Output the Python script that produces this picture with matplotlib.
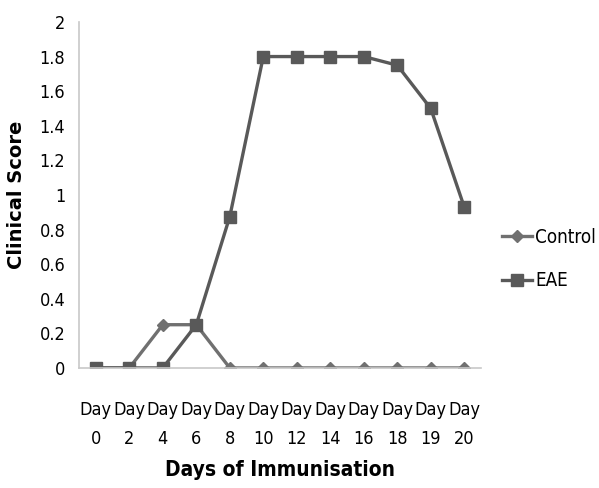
import matplotlib.pyplot as plt

days = ['0', '2', '4', '6', '8', '10', '12', '14', '16', '18', '19', '20']
control = [0, 0, 0.25, 0.25, 0, 0, 0, 0, 0, 0, 0, 0]
eae = [0, 0, 0, 0.25, 0.875, 1.8, 1.8, 1.8, 1.8, 1.75, 1.5, 0.93]

plt.rcParams['font.family'] = ['DejaVu Sans']
plt.rcParams['font.stretch'] = 'condensed'

fig = plt.figure(figsize=(5.99, 4.88), dpi=100)
ax = fig.add_axes([0.132, 0.246, 0.671, 0.709])

x = range(len(days))
ax.plot(x, control, color='#707070', marker='D', markersize=6, linewidth=2.4, label='Control')
ax.plot(x, eae, color='#595959', marker='s', markersize=8, linewidth=2.4, label='EAE')

ax.set_xlim(-0.5, len(days) - 0.5)
ax.set_ylim(0, 2)
ax.set_yticks([0, 0.2, 0.4, 0.6, 0.8, 1, 1.2, 1.4, 1.6, 1.8, 2])
ax.set_yticklabels(['0', '0.2', '0.4', '0.6', '0.8', '1', '1.2', '1.4', '1.6', '1.8', '2'], fontsize=13)
ax.set_xticks(list(x))
ax.set_xticklabels(['Day\n' + d for d in days], fontsize=13, linespacing=1.75)
ax.tick_params(length=0, pad=10)
ax.tick_params(axis='x', pad=24)

for s in ['top', 'right']:
    ax.spines[s].set_visible(False)
for s in ['left', 'bottom']:
    ax.spines[s].set_color('#c8c8c8')
    ax.spines[s].set_linewidth(1.2)

ax.set_ylabel('Clinical Score', fontsize=14, fontweight='bold', fontstretch='normal', labelpad=10)
ax.set_xlabel('Days of Immunisation', fontsize=15, fontweight='bold', labelpad=9)

ax.legend(loc='center left', bbox_to_anchor=(1.02, 0.315), frameon=False, fontsize=13.5,
          handlelength=1.6, handletextpad=0.15, labelspacing=1.3, borderaxespad=0.3)

plt.savefig('out.png', dpi=100)
